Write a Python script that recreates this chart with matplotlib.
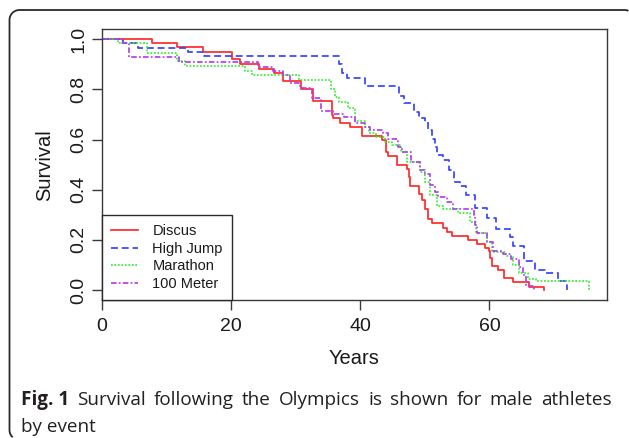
import numpy as np
import matplotlib
matplotlib.use('Agg')
import matplotlib.pyplot as plt
from matplotlib.lines import Line2D
from matplotlib.transforms import IdentityTransform

plt.rcParams['font.family'] = ['Liberation Sans', 'DejaVu Sans']

# ---------------- data (Kaplan-Meier step points: time in years, survival) ----
discus_t = [7.75, 11.7, 15.66, 20.12, 21.44, 24.28, 26.61, 28.03, 30.77, 32.7,
            35.64, 35.84, 36.85, 38.47, 40.3, 43.34, 43.95, 44.36, 45.67, 47.2,
            47.5, 47.7, 49.12, 49.53, 50.03, 50.44, 51.05, 52.87, 53.38, 54.19,
            56.73, 58.05, 59.36, 59.87, 60.07, 60.48, 61.39, 62.2, 63.72, 66.16,
            68.49]
discus_s = [0.984, 0.971, 0.950, 0.920, 0.902, 0.883, 0.866, 0.832, 0.800, 0.752,
            0.700, 0.685, 0.667, 0.649, 0.614, 0.598, 0.551, 0.533, 0.499, 0.482,
            0.450, 0.416, 0.383, 0.359, 0.323, 0.282, 0.269, 0.249, 0.231, 0.215,
            0.198, 0.182, 0.168, 0.155, 0.128, 0.095, 0.078, 0.047, 0.031, 0.012,
            0.0]

highjump_t = [3.29, 5.62, 13.43, 15.76, 36.65, 37.16, 37.97, 40.81, 46.08, 46.79,
              48.31, 49.12, 50.03, 50.54, 51.05, 51.56, 51.86, 52.87, 53.68, 54.5,
              55.51, 56.32, 57.84, 59.67, 61.09, 63.22, 63.62, 65.35, 67.07, 68.59,
              70.62, 72.04]
highjump_s = [0.984, 0.967, 0.950, 0.933, 0.900, 0.866, 0.846, 0.812, 0.772, 0.745,
              0.712, 0.685, 0.671, 0.638, 0.604, 0.571, 0.537, 0.517, 0.477, 0.430,
              0.416, 0.380, 0.327, 0.289, 0.245, 0.210, 0.175, 0.115, 0.081, 0.068,
              0.034, 0.0]

marathon_t = [2.58, 6.94, 11.71, 12.92, 22.15, 23.26, 30.57, 35.53, 36.04, 36.65,
              38.17, 39.18, 40.81, 41.42, 42.43, 43.85, 44.96, 46.38, 47.3, 49.32,
              50.03, 50.85, 51.86, 52.77, 55.1, 57.03, 57.94, 59.67, 60.38, 62.61,
              63.72, 64.53, 65.95, 67.27, 75.38]
marathon_s = [0.984, 0.947, 0.913, 0.893, 0.872, 0.857, 0.838, 0.800, 0.770, 0.748,
              0.728, 0.675, 0.652, 0.625, 0.611, 0.591, 0.577, 0.551, 0.510, 0.470,
              0.430, 0.380, 0.336, 0.323, 0.309, 0.270, 0.229, 0.190, 0.152, 0.135,
              0.100, 0.068, 0.045, 0.034, 0.0]

meter100_t = [3.09, 4.30, 11.91, 24.18, 26.51, 28.13, 29.15, 30.67, 32.49, 34.01,
              35.74, 37.46, 39.18, 40.81, 41.52, 43.54, 44.36, 45.78, 46.49, 47.91,
              49.22, 50.03, 50.85, 51.56, 52.06, 53.38, 54.39, 57.54, 57.84, 58.15,
              59.57, 60.58, 62.1, 63.32, 64.64, 65.14, 65.65, 66.97]
meter100_s = [0.984, 0.930, 0.910, 0.891, 0.874, 0.858, 0.826, 0.804, 0.767, 0.716,
              0.703, 0.690, 0.668, 0.652, 0.638, 0.625, 0.604, 0.570, 0.551, 0.510,
              0.480, 0.463, 0.420, 0.390, 0.372, 0.349, 0.325, 0.300, 0.260, 0.229,
              0.190, 0.155, 0.142, 0.122, 0.090, 0.061, 0.014, 0.0]

series_names = ["Discus", "High Jump", "Marathon", "100 Meter"]
x_ticks = [0, 20, 40, 60]
y_ticks = [0.0, 0.2, 0.4, 0.6, 0.8, 1.0]
y_tick_labels = ["0.0", "0.2", "0.4", "0.6", "0.8", "1.0"]
caption_bold = "Fig. 1"
caption_line1 = "Survival following the Olympics is shown for male athletes"
caption_line2 = "by event"

# ---------------- figure ----------------
W, H = 629, 438
fig = plt.figure(figsize=(W / 100, H / 100), dpi=100)

# outer rounded frame, built as a polyline and cut at the image edges
fl, fr, ft, fb, rad = 9.5, 634.5, 10.0, 440.0, 10.0
def arc(cx, cy, a0, a1, n=24):
    a = np.linspace(np.radians(a0), np.radians(a1), n)
    return cx + rad * np.cos(a), cy + rad * np.sin(a)
pts_x, pts_y = [], []
for (cx, cy, a0, a1) in [(fl + rad, fb - rad, 90, 180),   # bottom-left (y down)
                         (fl + rad, ft + rad, 180, 270),  # top-left
                         (fr - rad, ft + rad, 270, 360),  # top-right
                         (fr - rad, fb - rad, 0, 90)]:    # bottom-right
    xs, ys = arc(cx, cy, a0, a1)
    pts_x.extend(xs); pts_y.extend(ys)
pts_x.append(pts_x[0]); pts_y.append(pts_y[0])
pts_x = np.array(pts_x); pts_y = np.array(pts_y)
inside = (pts_x <= W - 0.3) & (pts_y <= H - 0.3)
pts_x = np.where(inside, pts_x, np.nan)
pts_y = np.where(inside, H - pts_y, np.nan)
fig.add_artist(Line2D(pts_x, pts_y, transform=IdentityTransform(),
                      color="#2a2a2a", lw=1.3, solid_capstyle="butt"))

ax_l, ax_r, ax_t, ax_b = 101.7, 607, 29.3, 300
ax = fig.add_axes([ax_l / W, (H - ax_b) / H, (ax_r - ax_l) / W, (ax_b - ax_t) / H])

styles = [
    ("#ff2a2a", "-"),
    ("#3545ff", (0, (4, 2.2))),
    ("#33ee33", (0, (1, 1))),
    ("#b040f0", (0, (3.2, 1.3, 1, 1.3))),
]
data = [(discus_t, discus_s), (highjump_t, highjump_s),
        (marathon_t, marathon_s), (meter100_t, meter100_s)]
for name, (t, s), (c, ls) in zip(series_names, data, styles):
    ax.step([0.0] + t, [1.0] + s, where="post", color=c, lw=1.25,
            linestyle=ls, label=name)

ax.set_xlim(0, 78.2)
ax.set_ylim(-0.04, 1.04)
ax.set_xticks(x_ticks)
ax.set_yticks(y_ticks)
ax.set_yticklabels(y_tick_labels, rotation=90, va="center")
for sp in ax.spines.values():
    sp.set_color("#3a3a3a")
    sp.set_linewidth(1.0)
ax.tick_params(axis="both", direction="out", length=7, width=1.0,
               color="#3a3a3a", labelsize=14, labelcolor="#1a1a1a")
ax.tick_params(axis="x", pad=6)
ax.tick_params(axis="y", pad=3.5)

ax.set_xlabel("Years", fontsize=14.5, color="#1a1a1a", va="center")
ax.xaxis.set_label_coords(0.5, -(358 - ax_b) / (ax_b - ax_t))
ax.set_ylabel("Survival", fontsize=14.5, color="#1a1a1a", va="center")
ax.yaxis.set_label_coords(-(ax_l - 45) / (ax_r - ax_l), 0.5)

leg = ax.legend(loc="lower left", bbox_to_anchor=(0, 0), borderaxespad=0,
                frameon=True, fancybox=False, edgecolor="#2a2a2a",
                fontsize=10.5, handlelength=1.9, handletextpad=0.95,
                labelspacing=0.25, borderpad=0.62)
leg.get_frame().set_linewidth(1.0)
leg.get_frame().set_alpha(1)
for txt in leg.get_texts():
    txt.set_color("#1a1a1a")

# ---------------- caption (justified first line) ----------------
cap_fs = 13.6
x_left, x_right = 21, 612
y1, y2 = 405, 432
tokens = [(caption_bold, "bold")] + [(w, "normal") for w in caption_line1.split()]
texts = [fig.text(0, (H - y1) / H, w, fontsize=cap_fs, fontweight=wt,
                  family=["Open Sans", "DejaVu Sans"], va="baseline", ha="left",
                  color="#231f20") for w, wt in tokens]
renderer = fig.canvas.get_renderer()
widths = [t.get_window_extent(renderer).width for t in texts]
gap = (x_right - x_left - sum(widths)) / (len(tokens) - 1)
xx = x_left
for t, w in zip(texts, widths):
    t.set_x(xx / W)
    xx += w + gap
fig.text(x_left / W, (H - y2) / H, caption_line2, fontsize=cap_fs,
         family=["Open Sans", "DejaVu Sans"], va="baseline", ha="left",
         color="#231f20")

fig.savefig("out.png", dpi=100)
